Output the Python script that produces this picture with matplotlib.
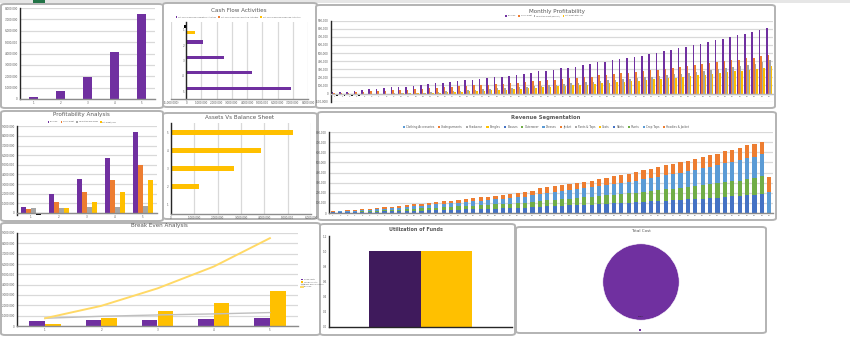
import numpy as np
import matplotlib.pyplot as plt
from matplotlib.patches import FancyBboxPatch, Rectangle, Patch
from matplotlib.ticker import FuncFormatter

# --- data ------------------------------------------------------------------
years = ['1', '2', '3', '4', '5']

# top-left yearly bar chart (x 1,000,000)
yearly_sales = [0.15, 0.70, 1.90, 4.10, 7.50]

# cash flow activities (x 1,000,000), categories top -> bottom
cf_operating = [-0.12, 1.07, 2.50, 4.35, 6.87]
cf_investing = [0.0, 0.0, 0.0, 0.0, 0.0]
cf_financing = [0.60, 0.0, 0.0, 0.0, 0.0]
cf_labels = ['Net Cash Flow from Operating Activities', 'Net Cash Flow from Investing Activities',
             'Net Cash Flow from Financing Activities']

# monthly profitability (x 100,000)
months = [str(m) for m in range(1, 61)]
mp_revenue = [0.15, 0.25, 0.25, 0.35, 0.45, 0.55, 0.55, 0.65, 0.78, 0.85, 0.85, 0.95, 1.05, 1.15, 1.25,
              1.35, 1.45, 1.55, 1.65, 1.70, 1.85, 1.90, 2.05, 2.10, 2.20, 2.30, 2.40, 2.55, 2.75, 2.85,
              2.90, 3.15, 3.20, 3.30, 3.50, 3.60, 3.85, 3.90, 4.10, 4.25, 4.40, 4.55, 4.70, 4.90, 5.00,
              5.20, 5.40, 5.60, 5.80, 6.00, 6.15, 6.40, 6.60, 6.80, 7.00, 7.20, 7.40, 7.60, 7.90, 8.10]
mp_gross = [0.08, 0.12, 0.13, 0.20, 0.25, 0.30, 0.30, 0.38, 0.45, 0.50, 0.50, 0.55, 0.60, 0.68, 0.72,
            0.80, 0.85, 0.90, 0.97, 1.00, 1.08, 1.12, 1.20, 1.23, 1.30, 1.35, 1.40, 1.50, 1.60, 1.65,
            1.70, 1.85, 1.88, 1.95, 2.05, 2.10, 2.25, 2.30, 2.40, 2.50, 2.60, 2.65, 2.75, 2.88, 2.95,
            3.05, 3.15, 3.30, 3.40, 3.50, 3.60, 3.75, 3.85, 4.00, 4.10, 4.20, 4.35, 4.45, 4.60, 4.80]
mp_ebitda = [0.00, 0.00, 0.00, 0.00, 0.00, 0.00, 0.00, 0.00, 0.02, 0.05, 0.05, 0.08, 0.12, 0.18, 0.22,
             0.28, 0.32, 0.38, 0.42, 0.50, 0.55, 0.60, 0.65, 0.70, 0.75, 0.80, 0.85, 0.92, 0.98, 1.05,
             1.10, 1.20, 1.25, 1.32, 1.40, 1.48, 1.55, 1.62, 1.70, 1.78, 1.85, 1.95, 2.02, 2.10, 2.20,
             2.30, 2.38, 2.48, 2.58, 2.68, 2.78, 2.90, 3.00, 3.12, 3.25, 3.40, 3.55, 3.70, 3.95, 4.20]
mp_net = [-0.30, -0.28, -0.26, -0.24, -0.22, -0.20, -0.12, -0.08, 0.00, 0.02, 0.03, 0.05, 0.08, 0.10, 0.13,
          0.16, 0.20, 0.25, 0.28, 0.32, 0.36, 0.40, 0.45, 0.50, 0.55, 0.60, 0.65, 0.70, 0.78, 0.85,
          0.90, 0.95, 1.00, 1.05, 1.12, 1.18, 1.25, 1.30, 1.38, 1.45, 1.52, 1.60, 1.68, 1.75, 1.82,
          1.90, 1.98, 2.05, 2.15, 2.25, 2.35, 2.45, 2.55, 2.65, 2.75, 2.85, 2.95, 3.05, 3.20, 3.35]
mp_labels = ['Revenue', 'Gross Profit', 'Operating Profit (EBITDA)', 'Net Profit after Tax']

# profitability analysis (x 1,000,000)
pa_revenue = [0.62, 1.93, 3.52, 5.72, 8.41]
pa_gross = [0.38, 1.14, 2.17, 3.45, 5.03]
pa_opex = [0.52, 0.52, 0.62, 0.66, 0.72]
pa_net = [-0.17, 0.48, 1.14, 2.17, 3.38]
pa_labels = ['Revenue', 'Gross Profit', 'Operating Expenses', 'Net Profit/Loss']

# assets vs balance sheet (x 1,000,000), first category at bottom
bs_assets = [0.0, 1.21, 2.69, 3.84, 5.21]

# revenue segmentation (x 100,000)
seg_names = ['Clothing Accessories', 'Undergarments', 'Headwear', 'Bangles', 'Blouses', 'Outerwear',
             'Dresses', 'Jacket', 'Pants & Tops', 'Coats', 'Skirts', 'Shorts', 'Crop Tops',
             'Hoodies & Jacket']
seg_skirts = [0.05, 0.06, 0.07, 0.08, 0.10, 0.11, 0.13, 0.15, 0.16, 0.18, 0.20, 0.22, 0.24, 0.26, 0.28,
              0.30, 0.32, 0.34, 0.36, 0.38, 0.40, 0.42, 0.44, 0.46, 0.48, 0.51, 0.53, 0.57, 0.63, 0.66,
              0.69, 0.72, 0.75, 0.77, 0.81, 0.83, 0.88, 0.91, 0.94, 0.98, 1.01, 1.05, 1.09, 1.14, 1.18,
              1.22, 1.26, 1.30, 1.34, 1.39, 1.43, 1.48, 1.53, 1.59, 1.63, 1.67, 1.73, 1.78, 1.87, 0.00]
seg_shorts = [0.03, 0.04, 0.05, 0.06, 0.08, 0.09, 0.11, 0.13, 0.14, 0.16, 0.18, 0.20, 0.22, 0.24, 0.26,
              0.28, 0.29, 0.31, 0.33, 0.35, 0.37, 0.39, 0.41, 0.43, 0.45, 0.47, 0.49, 0.53, 0.57, 0.60,
              0.63, 0.66, 0.68, 0.71, 0.74, 0.76, 0.80, 0.83, 0.86, 0.90, 0.93, 0.96, 1.00, 1.04, 1.08,
              1.12, 1.15, 1.19, 1.23, 1.27, 1.31, 1.36, 1.40, 1.45, 1.49, 1.53, 1.59, 1.63, 1.77, 0.00]
seg_croptops = [0.04, 0.05, 0.07, 0.08, 0.10, 0.12, 0.14, 0.16, 0.18, 0.20, 0.22, 0.24, 0.27, 0.29, 0.31,
                0.33, 0.36, 0.38, 0.40, 0.42, 0.45, 0.47, 0.49, 0.52, 0.54, 0.57, 0.59, 0.64, 0.67, 0.70,
                0.75, 0.78, 0.82, 0.85, 0.90, 0.93, 0.98, 1.02, 1.06, 1.10, 1.14, 1.18, 1.23, 1.29, 1.34,
                1.39, 1.44, 1.50, 1.55, 1.61, 1.67, 1.74, 1.80, 1.88, 1.94, 2.00, 2.08, 2.14, 2.20, 2.10]
seg_hoodies = [0.08, 0.07, 0.08, 0.08, 0.09, 0.11, 0.12, 0.13, 0.14, 0.16, 0.17, 0.19, 0.20, 0.21, 0.23,
               0.24, 0.26, 0.27, 0.29, 0.31, 0.32, 0.34, 0.36, 0.37, 0.39, 0.40, 0.44, 0.46, 0.56, 0.57,
               0.60, 0.61, 0.62, 0.64, 0.65, 0.68, 0.71, 0.74, 0.77, 0.79, 0.82, 0.84, 0.88, 0.90, 0.93,
               0.97, 0.98, 1.01, 1.05, 1.06, 1.09, 1.12, 1.14, 1.18, 1.21, 1.23, 1.27, 1.28, 1.19, 1.43]

# break even analysis (x 1,000,000)
be_fixed = [0.52, 0.62, 0.62, 0.68, 0.75]
be_variable = [0.23, 0.81, 1.49, 2.27, 3.38]
be_breakeven = [0.75, 0.94, 1.07, 1.17, 1.30]
be_revenue = [0.75, 1.95, 3.64, 5.75, 8.50]
be_labels = ['Fixed Costs', 'Variable Costs', 'Break Even Revenue', 'Revenue']

# utilization of funds
uf_labels = ['Use of Funds', 'Source of Funds']
uf_values = [1.0, 1.0]

# total cost pie
tc_labels = ['Total Cost']
tc_values = [1.0]

# --- styling helpers ---------------------------------------------------------
W, H = 850, 363
PURPLE = '#7030A0'
ORANGE = '#ED7D31'
GRAY = '#A5A5A5'
GOLD = '#FFC000'
BLUE = '#4472C4'
LBLUE = '#5B9BD5'
GREEN = '#70AD47'
TXT = '#595959'
GRID = '#D9D9D9'
TINY = 2
TSIZE = 4.1


def money(v, pos):
    if v < 0:
        return '({:,.0f})'.format(-v)
    return '{:,.0f}'.format(v)


def px_axes(fig, left, top, right, bottom):
    return fig.add_axes([left / W, 1 - bottom / H, (right - left) / W, (bottom - top) / H])


def panel(fig, left, top, right, bottom):
    box = FancyBboxPatch((left / W, 1 - bottom / H), (right - left) / W, (bottom - top) / H,
                         boxstyle='round,pad=0,rounding_size=0.005', transform=fig.transFigure,
                         facecolor='white', edgecolor='#B3B3B3', lw=1.4, zorder=-5)
    fig.patches.append(box)


def style(ax, grid_axis='y'):
    ax.set_facecolor('none')
    for s in ['top', 'right']:
        ax.spines[s].set_visible(False)
    ax.spines['left'].set_color('#262626')
    ax.spines['left'].set_linewidth(1.0)
    ax.spines['bottom'].set_color('#8C8C8C')
    ax.spines['bottom'].set_linewidth(1.0)
    ax.tick_params(labelsize=TINY, colors=TXT, length=0, pad=1.5)
    if grid_axis:
        ax.grid(axis=grid_axis, color=GRID, lw=0.9)
    ax.set_axisbelow(True)


def title(fig, x, y, text, size=TSIZE, weight='normal'):
    fig.text(x / W, 1 - y / H, text, ha='center', va='center', fontsize=size, color=TXT, weight=weight)


def top_legend(ax, handles, labels, x, y, size=TINY, ncol=None, loc='center'):
    ax.legend(handles, labels, loc=loc, bbox_to_anchor=(x / W, 1 - y / H),
              bbox_transform=ax.figure.transFigure, ncol=ncol or len(labels), fontsize=size,
              frameon=False, handlelength=0.8, handleheight=0.8, columnspacing=1.2,
              handletextpad=0.4, labelcolor=TXT, borderpad=0)


def sq(c):
    return Patch(facecolor=c, edgecolor='none')


fig = plt.figure(figsize=(8.5, 3.63), dpi=100)

# spreadsheet header strip
fig.patches.append(Rectangle((0, 1 - 2.5 / H), 1, 2.5 / H, transform=fig.transFigure,
                             facecolor='#E6E6E6', edgecolor='none', zorder=-6))
fig.patches.append(Rectangle((33 / W, 1 - 2.5 / H), 12 / W, 2.5 / H, transform=fig.transFigure,
                             facecolor='#217346', edgecolor='none', zorder=-6))

# --- 1. yearly bars ----------------------------------------------------------
panel(fig, 1, 4, 163, 108)
ax = px_axes(fig, 20, 8, 155, 99)
style(ax)
x = np.arange(len(years))
ax.bar(x, np.array(yearly_sales) * 1e6, width=0.37, color=PURPLE)
ax.set_xlim(-0.5, 4.5)
ax.set_ylim(0, 8e6)
ax.set_yticks(np.arange(0, 8.1e6, 1e6))
ax.yaxis.set_major_formatter(FuncFormatter(money))
ax.set_xticks(x, years)

# --- 2. cash flow activities -------------------------------------------------
panel(fig, 163, 3, 317, 107)
ax = px_axes(fig, 171, 22, 308, 99)
style(ax, 'x')
pos = np.arange(len(years))
op = np.array(cf_operating) * 1e6
ax.barh(pos - 0.2, op, height=0.21, color=[PURPLE if v >= 0 else 'black' for v in op])
ax.barh(pos, np.array(cf_investing) * 1e6, height=0.21, color=ORANGE)
ax.barh(pos + 0.2, np.array(cf_financing) * 1e6, height=0.21, color=GOLD)
ax.set_ylim(4.5, -0.5)
ax.set_xlim(-1e6, 8e6)
ax.set_xticks(np.arange(-1e6, 8.1e6, 1e6))
ax.xaxis.set_major_formatter(FuncFormatter(money))
ax.set_yticks(pos, years)
ax.spines['left'].set_position(('data', 0))
title(fig, 239, 10, 'Cash Flow Activities')
top_legend(ax, [sq(PURPLE), sq(ORANGE), sq(GOLD)], cf_labels, 238, 17, size=1.4)

# --- 3. monthly profitability ------------------------------------------------
panel(fig, 316, 5, 775, 108)
ax = px_axes(fig, 331, 20.7, 773, 101.7)
style(ax)
m = np.arange(len(months))
w = 0.21
for k, (vals, c) in enumerate([(mp_revenue, PURPLE), (mp_gross, ORANGE),
                               (mp_ebitda, GRAY), (mp_net, GOLD)]):
    v = np.array(vals) * 1e5
    ax.bar(m + (k - 1.5) * w, v, width=w, color=[c if t >= 0 else 'black' for t in v])
ax.set_xlim(-0.5, 59.5)
ax.set_ylim(-1e5, 9e5)
ax.set_yticks(np.arange(-1e5, 9.1e5, 1e5))
ax.yaxis.set_major_formatter(FuncFormatter(money))
ax.set_xticks(m, months)
ax.spines['bottom'].set_position(('data', 0))
ax.spines['bottom'].set_color('#BFBFBF')
ax.tick_params(axis='x', labelsize=1.5)
title(fig, 557, 12, 'Monthly Profitability')
top_legend(ax, [sq(PURPLE), sq(ORANGE), sq(GRAY), sq(GOLD)], mp_labels, 544, 16, size=1.4)

# --- 4. profitability analysis -----------------------------------------------
panel(fig, 1, 111, 163, 221)
ax = px_axes(fig, 17, 126.3, 157, 215.4)
style(ax)
w = 0.17
for k, (vals, c) in enumerate([(pa_revenue, PURPLE), (pa_gross, ORANGE),
                               (pa_opex, GRAY), (pa_net, GOLD)]):
    v = np.array(vals) * 1e6
    ax.bar(x + (k - 1.5) * w, v, width=w, color=[c if t >= 0 else 'black' for t in v])
ax.set_xlim(-0.5, 4.5)
ax.set_ylim(-0.25e6, 9e6)
ax.set_yticks(np.arange(0, 9.1e6, 1e6))
ax.yaxis.set_major_formatter(FuncFormatter(money))
ax.set_xticks(x, years)
ax.spines['bottom'].set_position(('data', 0))
title(fig, 81, 114, 'Profitability Analysis')
top_legend(ax, [sq(PURPLE), sq(ORANGE), sq(GRAY), sq(GOLD)], pa_labels, 82, 122, size=1.4)

# --- 5. assets vs balance sheet ----------------------------------------------
panel(fig, 163, 113, 317, 219)
ax = px_axes(fig, 171, 123, 311, 214)
style(ax, 'x')
ax.barh(pos, np.array(bs_assets) * 1e6, height=0.27, color=GOLD)
ax.set_ylim(-0.5, 4.5)
ax.set_xlim(0, 6e6)
ax.set_xticks(np.arange(0, 6.1e6, 1e6))
ax.xaxis.set_major_formatter(FuncFormatter(money))
ax.set_yticks(pos, years)
title(fig, 240, 118, 'Assets Vs Balance Sheet')

# --- 6. revenue segmentation -------------------------------------------------
panel(fig, 318, 112, 776, 220)
ax = px_axes(fig, 329, 132, 773, 213)
style(ax)
seg_colors = [LBLUE, ORANGE, GRAY, GOLD, BLUE, GREEN] * 2 + [LBLUE, ORANGE]
bottom = np.zeros(len(months))
for vals, c in [(seg_skirts, BLUE), (seg_shorts, GREEN), (seg_croptops, LBLUE), (seg_hoodies, ORANGE)]:
    v = np.array(vals) * 1e5
    ax.bar(m, v, bottom=bottom, width=0.55, color=c)
    bottom += v
ax.set_xlim(-0.5, 59.5)
ax.set_ylim(0, 8e5)
ax.set_yticks(np.arange(0, 8.1e5, 1e5))
ax.yaxis.set_major_formatter(FuncFormatter(money))
ax.set_xticks(m, months)
ax.tick_params(axis='x', labelsize=1.5)
title(fig, 546, 118, 'Revenue Segmentation', weight='bold', size=3.8)
top_legend(ax, [sq(c) for c in seg_colors], seg_names, 546, 127, size=2.0)

# --- 7. break even analysis --------------------------------------------------
panel(fig, 1, 223, 320, 335)
ax = px_axes(fig, 17, 233, 298, 326)
style(ax)
b1 = ax.bar(x - 0.14, np.array(be_fixed) * 1e6, width=0.28, color=PURPLE)
b2 = ax.bar(x + 0.14, np.array(be_variable) * 1e6, width=0.28, color=GOLD)
l1, = ax.plot(x, np.array(be_breakeven) * 1e6, color='#BFBFBF', lw=1.0)
l2, = ax.plot(x, np.array(be_revenue) * 1e6, color='#FFD966', lw=1.4)
ax.set_xlim(-0.5, 4.5)
ax.set_ylim(0, 9e6)
ax.set_yticks(np.arange(0, 9.1e6, 1e6))
ax.yaxis.set_major_formatter(FuncFormatter(money))
ax.set_xticks(x, years)
title(fig, 159, 226, 'Break Even Analysis')
ax.legend([b1, b2, l1, l2], be_labels, loc='center left', bbox_to_anchor=(300 / W, 1 - 283 / H),
          bbox_transform=fig.transFigure, fontsize=1.4, frameon=False, handlelength=1.2,
          labelspacing=0.5, handletextpad=0.3, labelcolor=TXT, borderpad=0)

# --- 8. utilization of funds -------------------------------------------------
panel(fig, 320, 224, 515, 335)
ax = px_axes(fig, 329, 236, 512, 327)
style(ax, None)
ax.bar([-0.142], [uf_values[0]], width=0.284, color='#3F1A5C')
ax.bar([0.142], [uf_values[1]], width=0.284, color=GOLD)
ax.set_xlim(-0.5, 0.5)
ax.set_ylim(0, 1.2)
ax.set_yticks(np.arange(0, 1.21, 0.2))
ax.set_xticks([])
ax.spines['bottom'].set_color('#262626')
title(fig, 416, 229, 'Utilization of Funds', size=3.5, weight='bold')

# --- 9. total cost pie -------------------------------------------------------
panel(fig, 516, 227, 766, 333)
ax = px_axes(fig, 599, 240, 683, 324)
ax.pie(tc_values, colors=[PURPLE], radius=1, startangle=90,
       wedgeprops=dict(edgecolor='white', lw=0.4))
ax.set_xlim(-1.1, 1.1)
ax.set_ylim(-1.1, 1.1)
ax.text(0, -0.9, '100%', ha='center', va='center', fontsize=1.6, color='#262626')
title(fig, 641, 231, 'Total Cost', size=3)
ax.legend([sq(PURPLE)], [''], loc='center', bbox_to_anchor=(641 / W, 1 - 330 / H),
          bbox_transform=fig.transFigure, frameon=False, fontsize=1.5, handlelength=0.7,
          handleheight=0.7, borderpad=0)

fig.savefig('out.png', dpi=100)
